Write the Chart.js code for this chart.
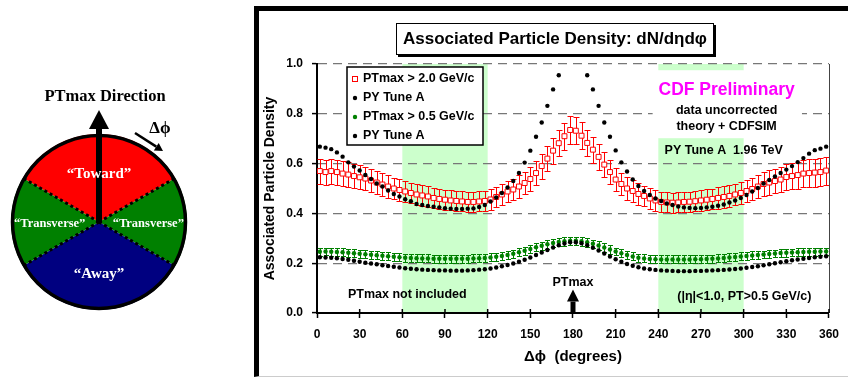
<!DOCTYPE html>
<html>
<head>
<meta charset="utf-8">
<title>Associated Particle Density</title>
<script src="https://cdn.jsdelivr.net/npm/chart.js@4.4.1/dist/chart.umd.min.js"></script>
<style>
  html, body { margin: 0; padding: 0; background: #fff; }
  body { width: 848px; height: 379px; position: relative; overflow: hidden; }
  #wheel { position: absolute; left: 0; top: 80px; }
  #panel { position: absolute; left: 254px; top: 6px; width: 700px; height: 371px; box-sizing: border-box;
           border-left: 5px solid #000; border-top: 5px solid #000; border-bottom: 1px solid #ccc; }
  #main { position: absolute; left: 259px; top: 11px; }
  #title { position: absolute; left: 396px; top: 23px; width: 318px; height: 32px; box-sizing: border-box;
           border: 1.5px solid #000; box-shadow: 2px 2px 0 #000; background: #fff;
           font: bold 17px "Liberation Sans", Arial, sans-serif; line-height: 29px; text-align: center; white-space: nowrap; }
</style>
</head>
<body>
<canvas id="wheel" width="250" height="240"></canvas>
<div id="panel"></div>
<canvas id="main" width="589" height="366"></canvas>
<div id="title">Associated Particle Density: dN/dηdφ</div>

<script>
// ---- data: bin centres in Δφ (degrees), 4 degree bins
const phi = [
  2, 6, 10, 14, 18, 22, 26, 30, 34, 38, 42, 46, 50, 54, 58,
  62, 66, 70, 74, 78, 82, 86, 90, 94, 98, 102, 106, 110, 114, 118,
  122, 126, 130, 134, 138, 142, 146, 150, 154, 158, 162, 166, 170, 174, 178,
  182, 186, 190, 194, 198, 202, 206, 210, 214, 218, 222, 226, 230, 234, 238,
  242, 246, 250, 254, 258, 262, 266, 270, 274, 278, 282, 286, 290, 294, 298,
  302, 306, 310, 314, 318, 322, 326, 330, 334, 338, 342, 346, 350, 354, 358
];

// CDF data, PTmax > 2.0 GeV/c
const ptmax2 = [
  0.570, 0.566, 0.570, 0.566, 0.560, 0.556, 0.550, 0.545, 0.540, 0.532, 0.524, 0.516, 0.508, 0.500, 0.494,
  0.488, 0.482, 0.476, 0.472, 0.468, 0.462, 0.458, 0.455, 0.452, 0.450, 0.448, 0.446, 0.446, 0.448, 0.450,
  0.456, 0.466, 0.476, 0.488, 0.496, 0.508, 0.522, 0.538, 0.562, 0.590, 0.620, 0.652, 0.682, 0.710, 0.735,
  0.732, 0.712, 0.683, 0.656, 0.627, 0.596, 0.566, 0.536, 0.518, 0.500, 0.490, 0.478, 0.470, 0.460, 0.452,
  0.446, 0.444, 0.443, 0.444, 0.446, 0.447, 0.449, 0.452, 0.455, 0.458, 0.462, 0.466, 0.470, 0.476, 0.482,
  0.490, 0.498, 0.508, 0.518, 0.524, 0.530, 0.536, 0.546, 0.550, 0.554, 0.560, 0.562, 0.564, 0.566, 0.572
];
const ptmax2Err = [
  0.050, 0.050, 0.050, 0.050, 0.050, 0.049, 0.049, 0.048, 0.048, 0.047, 0.046, 0.045, 0.045, 0.044, 0.044,
  0.043, 0.042, 0.042, 0.041, 0.041, 0.040, 0.040, 0.040, 0.040, 0.040, 0.040, 0.040, 0.040, 0.040, 0.040,
  0.041, 0.041, 0.042, 0.043, 0.044, 0.045, 0.046, 0.047, 0.048, 0.050, 0.051, 0.052, 0.053, 0.054, 0.055,
  0.055, 0.054, 0.053, 0.052, 0.051, 0.050, 0.049, 0.047, 0.046, 0.045, 0.044, 0.043, 0.042, 0.041, 0.041,
  0.040, 0.040, 0.040, 0.040, 0.040, 0.040, 0.041, 0.041, 0.042, 0.042, 0.043, 0.043, 0.044, 0.044, 0.045,
  0.045, 0.046, 0.047, 0.048, 0.049, 0.050, 0.051, 0.052, 0.053, 0.054, 0.055, 0.055, 0.056, 0.056, 0.056
];

// PYTHIA Tune A, PTmax > 2.0 GeV/c (null = above the 1.0 limit of the plot)
const pyHigh = [
  0.668, 0.664, 0.658, 0.645, 0.628, 0.605, 0.588, 0.572, 0.554, 0.538, 0.520, 0.508, 0.492, 0.478, 0.468,
  0.457, 0.449, 0.438, 0.434, 0.430, 0.427, 0.424, 0.421, 0.419, 0.418, 0.418, 0.419, 0.420, 0.426, 0.434,
  0.448, 0.464, 0.482, 0.504, 0.530, 0.562, 0.604, 0.652, 0.708, 0.765, 0.832, 0.898, 0.955, null, null,
  null, null, 0.955, 0.898, 0.832, 0.765, 0.708, 0.653, 0.605, 0.568, 0.536, 0.510, 0.490, 0.474, 0.460,
  0.450, 0.440, 0.434, 0.428, 0.424, 0.422, 0.421, 0.422, 0.424, 0.427, 0.431, 0.436, 0.444, 0.452, 0.462,
  0.474, 0.488, 0.502, 0.520, 0.534, 0.548, 0.562, 0.576, 0.590, 0.606, 0.622, 0.640, 0.654, 0.660, 0.668
];

// CDF data, PTmax > 0.5 GeV/c
const ptmax05 = [
  0.246, 0.247, 0.246, 0.245, 0.244, 0.242, 0.240, 0.238, 0.236, 0.234, 0.232, 0.230, 0.228, 0.226, 0.224,
  0.222, 0.221, 0.220, 0.219, 0.219, 0.218, 0.218, 0.218, 0.218, 0.218, 0.218, 0.218, 0.219, 0.220, 0.221,
  0.223, 0.226, 0.229, 0.233, 0.238, 0.244, 0.250, 0.257, 0.264, 0.270, 0.276, 0.281, 0.285, 0.288, 0.290,
  0.290, 0.288, 0.284, 0.278, 0.271, 0.263, 0.255, 0.247, 0.240, 0.233, 0.227, 0.222, 0.219, 0.217, 0.216,
  0.215, 0.215, 0.215, 0.215, 0.215, 0.215, 0.216, 0.216, 0.217, 0.218, 0.219, 0.221, 0.223, 0.225, 0.227,
  0.229, 0.231, 0.233, 0.235, 0.237, 0.239, 0.241, 0.242, 0.243, 0.244, 0.245, 0.246, 0.246, 0.247, 0.247
];
const ptmax05Err = [
  0.016, 0.016, 0.016, 0.016, 0.016, 0.016, 0.016, 0.016, 0.016, 0.016, 0.016, 0.016, 0.016, 0.016, 0.016,
  0.016, 0.016, 0.016, 0.016, 0.016, 0.016, 0.016, 0.016, 0.016, 0.016, 0.016, 0.016, 0.016, 0.016, 0.016,
  0.016, 0.016, 0.016, 0.016, 0.016, 0.016, 0.017, 0.017, 0.017, 0.017, 0.017, 0.017, 0.017, 0.017, 0.017,
  0.017, 0.017, 0.017, 0.017, 0.017, 0.017, 0.017, 0.016, 0.016, 0.016, 0.016, 0.016, 0.016, 0.016, 0.016,
  0.016, 0.016, 0.016, 0.016, 0.016, 0.016, 0.016, 0.016, 0.016, 0.016, 0.016, 0.016, 0.016, 0.016, 0.016,
  0.016, 0.016, 0.016, 0.016, 0.016, 0.016, 0.016, 0.016, 0.016, 0.016, 0.016, 0.016, 0.016, 0.016, 0.016
];

// PYTHIA Tune A, PTmax > 0.5 GeV/c
const pyLow = [
  0.224, 0.223, 0.222, 0.220, 0.217, 0.214, 0.210, 0.206, 0.202, 0.199, 0.196, 0.192, 0.189, 0.186, 0.183,
  0.180, 0.178, 0.176, 0.174, 0.173, 0.172, 0.171, 0.171, 0.170, 0.170, 0.170, 0.171, 0.172, 0.174, 0.176,
  0.179, 0.183, 0.188, 0.193, 0.199, 0.206, 0.214, 0.223, 0.233, 0.243, 0.253, 0.263, 0.272, 0.279, 0.284,
  0.284, 0.280, 0.272, 0.262, 0.251, 0.239, 0.227, 0.216, 0.206, 0.197, 0.190, 0.184, 0.179, 0.176, 0.173,
  0.171, 0.170, 0.169, 0.168, 0.168, 0.168, 0.169, 0.169, 0.170, 0.171, 0.172, 0.173, 0.175, 0.177, 0.179,
  0.182, 0.185, 0.188, 0.192, 0.196, 0.200, 0.204, 0.208, 0.212, 0.215, 0.218, 0.221, 0.224, 0.226, 0.228
];

const legendLabels = ["PTmax > 2.0 GeV/c", "PY Tune A", "PTmax > 0.5 GeV/c", "PY Tune A"];
const shadeBands = [[60, 120], [240, 300]];   // "transverse" regions
const xTicks = { min: 0, max: 360, step: 30 };
const yTicks = { min: 0, max: 1, step: 0.2 };

// left picture: regions around the PTmax direction
const sectorNames = ["\u201CToward\u201D", "\u201CTransverse\u201D", "\u201CAway\u201D", "\u201CTransverse\u201D"];
const sectorSpans = [120, 60, 120, 60];
const sectorColors = ["#ff0000", "#008000", "#000080", "#008000"];
const wheelRotation = -60;

const SANS = '"Liberation Sans", Arial, Helvetica, sans-serif';
const SERIF = '"Liberation Serif", "Times New Roman", serif';
Chart.defaults.font.family = SANS;
Chart.defaults.color = "#000";
Chart.defaults.animation = false;

const toPoints = arr => phi.map((x, i) => ({ x: x, y: arr[i] }));

function drawArrow(ctx, x0, y0, x1, y1, width, headLen, headHalf) {
    const ang = Math.atan2(y1 - y0, x1 - x0);
    const bx = x1 - headLen * Math.cos(ang), by = y1 - headLen * Math.sin(ang);
    ctx.lineWidth = width;
    ctx.beginPath();
    ctx.moveTo(x0, y0);
    ctx.lineTo(bx, by);
    ctx.stroke();
    ctx.beginPath();
    ctx.moveTo(x1, y1);
    ctx.lineTo(bx + headHalf * Math.sin(ang), by - headHalf * Math.cos(ang));
    ctx.lineTo(bx - headHalf * Math.sin(ang), by + headHalf * Math.cos(ang));
    ctx.closePath();
    ctx.fill();
}

// ---------- left: PTmax direction wheel
const wheelDecor = {
    id: "wheelDecor",
    afterDraw(chart) {
        const ctx = chart.ctx;
        const arc = chart.getDatasetMeta(0).data[0];
        const cx = arc.x, cy = arc.y, r = arc.outerRadius;
        ctx.save();
        ctx.strokeStyle = "#000";
        ctx.fillStyle = "#000";

        // dotted region boundaries
        ctx.lineWidth = 3;
        ctx.setLineDash([3, 3]);
        let start = wheelRotation;
        sectorSpans.forEach(span => {
            const t = start * Math.PI / 180;
            ctx.beginPath();
            ctx.moveTo(cx, cy);
            ctx.lineTo(cx + r * Math.sin(t), cy - r * Math.cos(t));
            ctx.stroke();
            start += span;
        });
        ctx.setLineDash([]);

        // outline
        ctx.lineWidth = 3.5;
        ctx.beginPath();
        ctx.arc(cx, cy, r - 1.5, 0, Math.PI * 2);
        ctx.stroke();

        // PTmax arrow
        drawArrow(ctx, cx, cy, cx, cy - r - 24, 6, 19, 10);

        // Δφ arrow
        drawArrow(ctx, cx + 36, cy - 89, cx + 64, cy - 71, 2.5, 8, 4.5);

        ctx.textAlign = "center";
        ctx.textBaseline = "middle";
        ctx.font = "bold 16.5px " + SERIF;
        ctx.fillText("PTmax Direction", cx + 6, cy - 125);
        ctx.font = "bold 17px " + SERIF;
        ctx.fillText("Δϕ", cx + 61, cy - 93);

        // region names
        ctx.fillStyle = "#fff";
        start = wheelRotation;
        sectorSpans.forEach((span, i) => {
            const t = (start + span / 2) * Math.PI / 180;
            const big = span > 60;
            ctx.font = "bold " + (big ? "15px " : "12.5px ") + SERIF;
            ctx.fillText(sectorNames[i], cx + 0.56 * r * Math.sin(t), cy - 0.57 * r * Math.cos(t) + 2);
            start += span;
        });
        ctx.restore();
    }
};

new Chart(document.getElementById("wheel"), {
    type: "pie",
    data: {
        labels: sectorNames,
        datasets: [{ data: sectorSpans, backgroundColor: sectorColors, borderWidth: 0 }]
    },
    options: {
        responsive: false,
        events: [],
        rotation: wheelRotation,
        layout: { padding: { left: 11, right: 63, top: 54, bottom: 10 } },
        plugins: { legend: { display: false }, tooltip: { enabled: false } }
    },
    plugins: [wheelDecor]
});

// ---------- right: density vs Δφ
const plotDecor = {
    id: "plotDecor",
    beforeDraw(chart) {
        const { ctx, chartArea: a, scales: { x } } = chart;
        ctx.save();
        ctx.fillStyle = "#ccffcc";
        shadeBands.forEach(([lo, hi]) => {
            const x0 = x.getPixelForValue(lo), x1 = x.getPixelForValue(hi);
            ctx.fillRect(x0, a.top, x1 - x0, a.bottom - a.top);
        });
        ctx.restore();
    },
    beforeDatasetsDraw(chart) {
        const { ctx, scales: { x, y } } = chart;
        ctx.save();
        // white text box behind "CDF Preliminary"
        ctx.fillStyle = "#fff";
        const bx0 = x.getPixelForValue(236), bx1 = x.getPixelForValue(341);
        const by0 = y.getPixelForValue(0.975), by1 = y.getPixelForValue(0.702);
        ctx.fillRect(bx0, by0, bx1 - bx0, by1 - by0);

        // error bars
        chart.data.datasets.forEach((ds, i) => {
            if (!ds.errorBars) return;
            const meta = chart.getDatasetMeta(i);
            ctx.strokeStyle = ds.borderColor;
            ctx.lineWidth = 1;
            meta.data.forEach((pt, j) => {
                const v = ds.data[j].y, e = ds.errorBars[j];
                if (v == null) return;
                const px = Math.round(pt.x) + 0.5;
                const yt = Math.round(y.getPixelForValue(v + e)) + 0.5;
                const yb = Math.round(y.getPixelForValue(v - e)) + 0.5;
                ctx.beginPath();
                ctx.moveTo(px, yt); ctx.lineTo(px, yb);
                ctx.moveTo(px - ds.capHalf, yt); ctx.lineTo(px + ds.capHalf, yt);
                ctx.moveTo(px - ds.capHalf, yb); ctx.lineTo(px + ds.capHalf, yb);
                ctx.stroke();
            });
        });
        ctx.restore();
    },
    afterDraw(chart) {
        const { ctx, chartArea: a, scales: { x, y } } = chart;
        const ds = chart.data.datasets;
        ctx.save();

        // right frame line
        ctx.strokeStyle = "#444";
        ctx.lineWidth = 1;
        ctx.beginPath();
        ctx.moveTo(Math.round(a.right) + 0.5, a.top);
        ctx.lineTo(Math.round(a.right) + 0.5, a.bottom);
        ctx.stroke();

        // x tick marks cross the axis
        ctx.strokeStyle = "#000";
        ctx.lineWidth = 1.5;
        x.ticks.forEach(t => {
            const px = x.getPixelForValue(t.value);
            ctx.beginPath();
            ctx.moveTo(px, a.bottom - 4);
            ctx.lineTo(px, a.bottom);
            ctx.stroke();
        });

        // legend box
        const lx = a.left + 30, ly = a.top + 3, lw = 136, lh = 78;
        ctx.fillStyle = "#fff";
        ctx.fillRect(lx, ly, lw, lh);
        ctx.strokeStyle = "#000";
        ctx.lineWidth = 1.5;
        ctx.strokeRect(lx, ly, lw, lh);
        const entries = [ds[2], ds[0], ds[3], ds[1]];
        ctx.font = "bold 12.5px " + SANS;
        ctx.textAlign = "left";
        ctx.textBaseline = "middle";
        entries.forEach((d, i) => {
            const ry = ly + 12 + i * 19;
            const mx = lx + 8;
            if (d.pointStyle === "rect") {
                ctx.fillStyle = "#fff";
                ctx.strokeStyle = d.borderColor;
                ctx.lineWidth = 1;
                ctx.fillRect(mx - 2.5, ry - 2.5, 5, 5);
                ctx.strokeRect(mx - 2.5, ry - 2.5, 5, 5);
            } else {
                ctx.fillStyle = d.backgroundColor;
                ctx.beginPath();
                ctx.arc(mx, ry, 2.2, 0, Math.PI * 2);
                ctx.fill();
            }
            ctx.fillStyle = "#000";
            ctx.fillText(legendLabels[i], lx + 16, ry);
        });

        // annotations
        ctx.textAlign = "center";
        const note = (txt, xv, yv, font, color) => {
            ctx.font = font;
            ctx.fillStyle = color || "#000";
            ctx.fillText(txt, x.getPixelForValue(xv), y.getPixelForValue(yv));
        };
        note("CDF Preliminary", 288, 0.895, "bold 17.5px " + SANS, "#ff00ff");
        note("data uncorrected", 288, 0.812, "bold 12.5px " + SANS);
        note("theory + CDFSIM", 288, 0.748, "bold 12.5px " + SANS);
        note("PY Tune A  1.96 TeV", 286, 0.652, "bold 12.5px " + SANS);
        note("(|η|<1.0, PT>0.5 GeV/c)", 300.5, 0.066, "bold 12.5px " + SANS);
        note("PTmax not included", 63.5, 0.074, "bold 12.5px " + SANS);
        note("PTmax", 180, 0.122, "bold 12.5px " + SANS);

        // PTmax marker arrow at Δφ = 180
        ctx.fillStyle = "#000";
        ctx.strokeStyle = "#000";
        const ax = x.getPixelForValue(180);
        drawArrow(ctx, ax, y.getPixelForValue(0), ax, y.getPixelForValue(0.094), 5, 12, 6);
        ctx.restore();
    }
};

new Chart(document.getElementById("main"), {
    type: "scatter",
    data: {
        datasets: [
            { label: legendLabels[1], data: toPoints(pyHigh), pointStyle: "circle", pointRadius: 2.2,
              backgroundColor: "#000", borderColor: "#000", borderWidth: 0 },
            { label: legendLabels[3], data: toPoints(pyLow), pointStyle: "circle", pointRadius: 2.2,
              backgroundColor: "#000", borderColor: "#000", borderWidth: 0 },
            { label: legendLabels[0], data: toPoints(ptmax2), errorBars: ptmax2Err, capHalf: 3,
              pointStyle: "rect", pointRadius: 3.5, backgroundColor: "#fff", borderColor: "#ff0000", borderWidth: 1 },
            { label: legendLabels[2], data: toPoints(ptmax05), errorBars: ptmax05Err, capHalf: 2.5,
              pointStyle: "circle", pointRadius: 2.2, backgroundColor: "#008000", borderColor: "#008000", borderWidth: 0 }
        ]
    },
    options: {
        responsive: false,
        events: [],
        layout: { padding: { left: 0, right: 15, top: 53, bottom: 0 } },
        plugins: { legend: { display: false }, tooltip: { enabled: false } },
        scales: {
            x: {
                type: "linear",
                min: xTicks.min, max: xTicks.max,
                ticks: { stepSize: xTicks.step, padding: 9, maxRotation: 0, font: { size: 12, weight: "bold" } },
                grid: { drawOnChartArea: false, tickLength: 5, tickColor: "#000", tickWidth: 1.5 },
                border: { color: "#000", width: 2 },
                title: { display: true, text: "Δϕ  (degrees)", font: { size: 15, weight: "bold" }, padding: { top: 0, bottom: 11 } },
                afterFit: s => { s.height = 64; }
            },
            y: {
                min: yTicks.min, max: yTicks.max,
                ticks: { stepSize: yTicks.step, padding: 9, font: { size: 12, weight: "bold" }, callback: v => v.toFixed(1) },
                grid: { color: "#777", lineWidth: 1.2, tickLength: 5, tickColor: "#000", tickWidth: 1.5 },
                border: { color: "#000", width: 2, dash: [9, 6] },
                title: { display: true, text: "Associated Particle Density", font: { size: 14, weight: "bold" }, padding: { top: 3, bottom: 0 } },
                afterFit: s => { s.width = 58; }
            }
        }
    },
    plugins: [plotDecor]
});
</script>
</body>
</html>
